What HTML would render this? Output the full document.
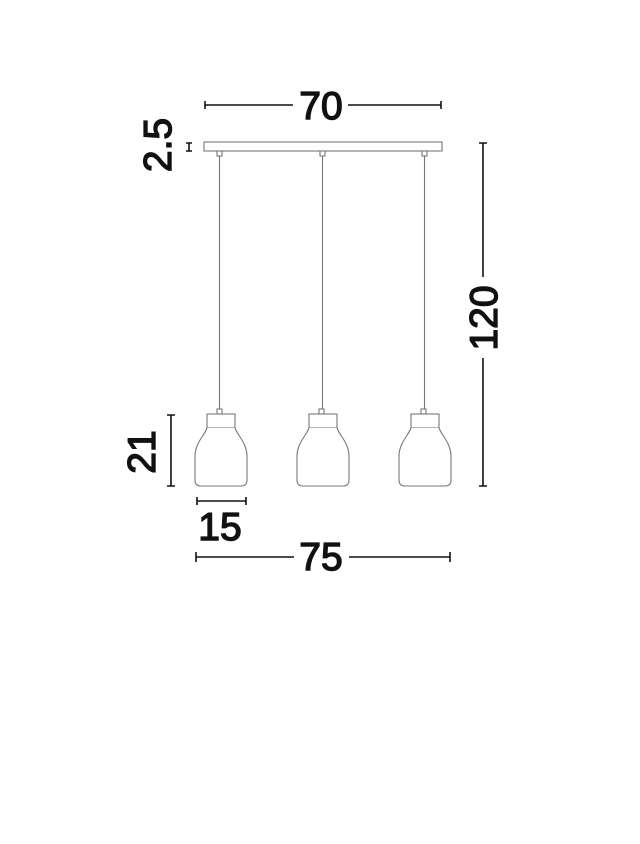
<!DOCTYPE html>
<html><head><meta charset="utf-8"><style>html,body{margin:0;padding:0;background:#fff}svg{display:block}</style></head>
<body>
<svg width="640" height="844" viewBox="0 0 640 844" xmlns="http://www.w3.org/2000/svg">
<g font-family="Liberation Sans, sans-serif" font-size="39" fill="#111" stroke="#111" stroke-width="1.4" text-anchor="middle">
<text x="321" y="119">70</text>
<text x="321" y="570">75</text>
<text x="220" y="540">15</text>
<text transform="translate(171,145) rotate(-90)">2.5</text>
<text transform="translate(155,452) rotate(-90)">21</text>
<text transform="translate(497,318) rotate(-90)">120</text>
</g>
<g stroke="#111" stroke-width="1.6" fill="none">
<path d="M205 105H293M348 105H441M205 101V109M441 101V109"/>
<path d="M196 557H294M349 557H450M196 552V562M450 552V562"/>
<path d="M197 501H246M197 497V505M246 497V505"/>
<path d="M171 415V486M167 415H175M167 486H175"/>
<path d="M483 143V277M483 358V486M479 143H487M479 486H487"/>
<path d="M189 143V151M186 143H192M186 151H192"/>
</g>
<g stroke="#777" stroke-width="1.1" fill="#fff">
<rect x="204" y="142" width="238" height="9"/>
<rect x="217" y="151" width="5" height="5"/><rect x="320" y="151" width="5" height="5"/><rect x="422" y="151" width="5" height="5"/>
<path d="M219.5 156V410M322.5 156V410M424.5 156V410" fill="none"/>
<g id="s">
<rect x="217" y="409" width="5" height="5"/>
<rect x="207" y="414" width="28" height="14"/>
<path d="M207 428C204 436 196 442 195 455V480Q195 486 201 486H241Q247 486 247 480V455C246 442 238 436 235 428"/>
</g>
<use href="#s" x="102"/>
<use href="#s" x="204"/>
</g>
</svg>
</body></html>
